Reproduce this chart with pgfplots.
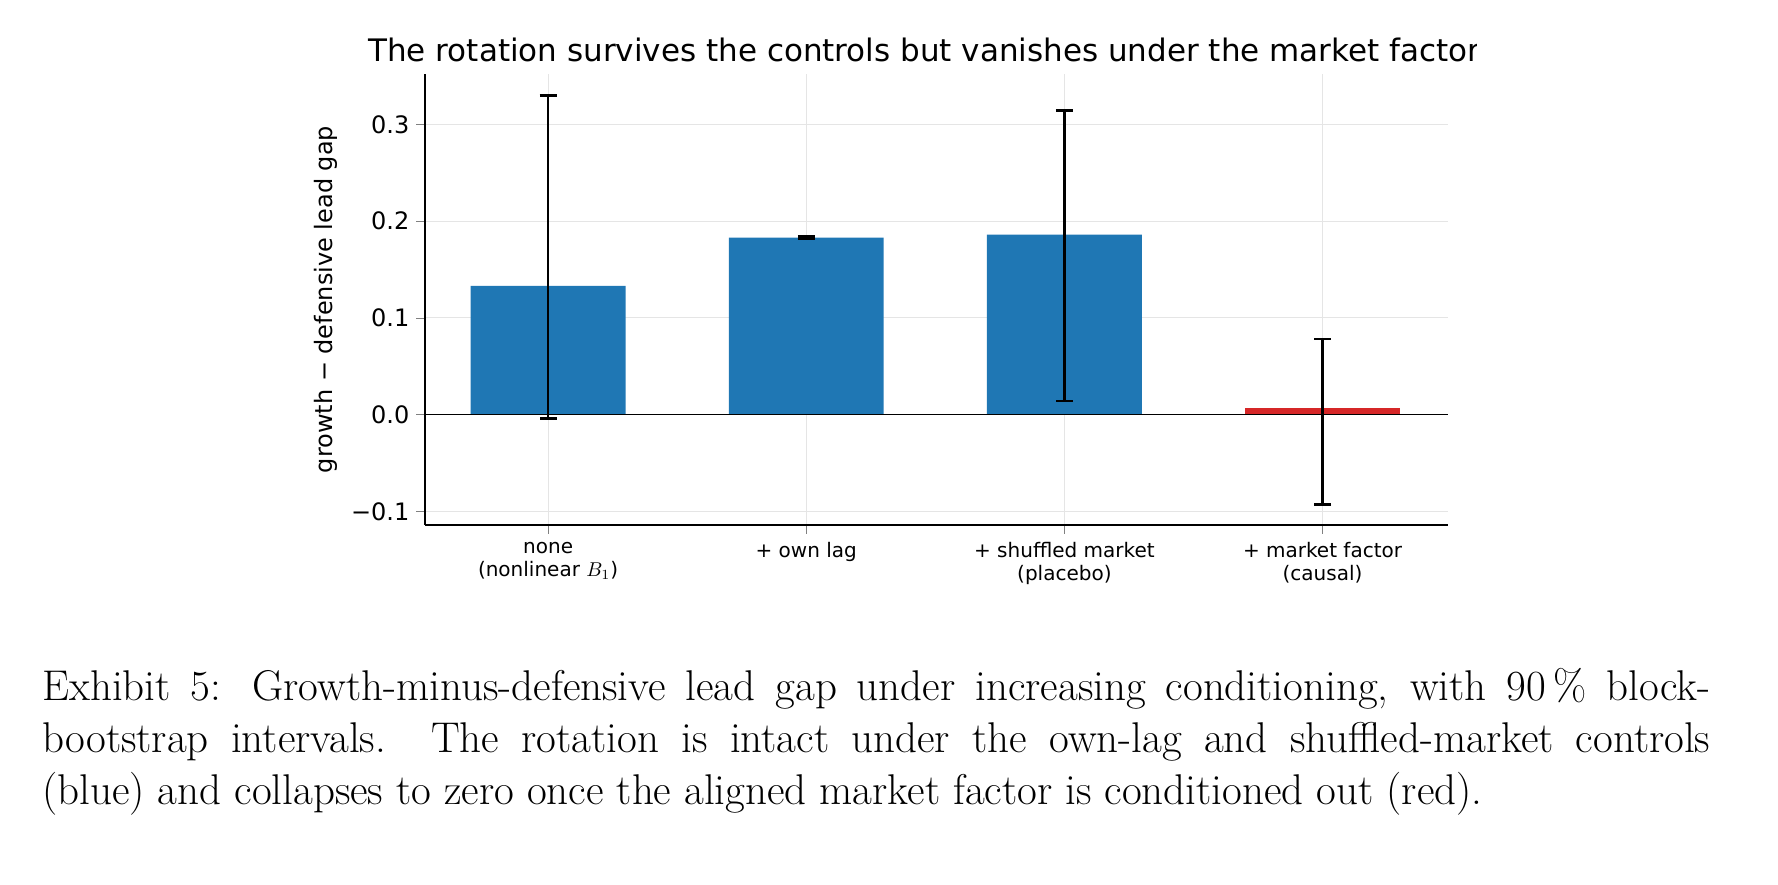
\documentclass[border=0pt]{standalone}
\usepackage{pgfplots}
\pgfplotsset{compat=1.18}
\usepackage{pgfplotstable}
\usepackage{fontspec}
\newfontfamily\dv{DejaVu Sans}
\definecolor{mblue}{HTML}{1F77B4}
\definecolor{mred}{HTML}{D62728}
\pgfplotstableread{
x y ep em
0 0.133 0.197 0.137
1 0.183 0.001 0.001
2 0.186 0.128 0.172
}\blue
\pgfplotstableread{
x y ep em
3 0.007 0.071 0.100
}\red
\begin{document}
\begin{tikzpicture}[x=1pt,y=1pt]
\path[use as bounding box] (0,0) rectangle (889,442);
\begin{axis}[at={(212.5pt,179.5pt)},anchor=south west,scale only axis,
 width=511.5pt,height=225.5pt,
 xmin=-0.477,xmax=3.486,ymin=-0.114,ymax=0.352,
 axis x line*=bottom,axis y line*=left,
 tick align=outside,
 xtick={0,1,2,3},
 xticklabels={none\\(nonlinear $B_1$),+ own lag,+ shuffled market\\(placebo),+ market factor\\(causal)},
 xticklabel style={align=center,font=\dv\fontsize{10}{11.5}\selectfont,yshift=-1pt},
 ytick={-0.1,0,0.1,0.2,0.3},
 yticklabel style={font=\dv\fontsize{12}{14}\selectfont},
 /pgf/number format/assume math mode=true,
 /pgf/number format/fixed,/pgf/number format/fixed zerofill,/pgf/number format/precision=1,
 yticklabel={\ifdim\tick pt<0pt −\pgfmathparse{-\tick}\pgfmathprintnumber{\pgfmathresult}\else\pgfmathprintnumber{\tick}\fi},
 ylabel={\dv\fontsize{12}{14}\selectfont growth − defensive lead gap},
 ylabel style={yshift=0pt},
 grid=major,major grid style={gray!20,line width=0.6pt},
 axis line style={line width=0.8pt},
 ybar,bar width=0.6,
 error bars/error bar style={line width=1.3pt,black},
 error bars/error mark options={rotate=90,mark size=4.25pt,line width=1.3pt,black},
]
\addplot[fill=mblue,draw=none,bar shift=0,error bars/.cd,y dir=both,y explicit]
 table[x=x,y=y,y error plus=ep,y error minus=em]{\blue};
\addplot[fill=mred,draw=none,bar shift=0,error bars/.cd,y dir=both,y explicit]
 table[x=x,y=y,y error plus=ep,y error minus=em]{\red};
\draw[black,line width=0.8pt] (axis cs:-0.477,0) -- (axis cs:3.486,0);
\end{axis}
\begin{scope}
\clip (0,390) rectangle (738,442);
\node[anchor=base west,inner sep=0pt,font=\dv\fontsize{15.5}{18}\selectfont] at (184,411) {The rotation survives the controls but vanishes under the market factor};
\end{scope}
\node[anchor=north west,inner sep=0pt,text width=834pt,align=justify,font=\fontsize{21.5}{26}\selectfont] at (21,108) {Exhibit 5: Growth-minus-defensive lead gap under increasing conditioning, with 90\,\% block-\linebreak bootstrap intervals. The rotation is intact under the own-lag and shuffled-market controls\linebreak (blue) and collapses to zero once the aligned market factor is conditioned out (red).};
\end{tikzpicture}
\end{document}
